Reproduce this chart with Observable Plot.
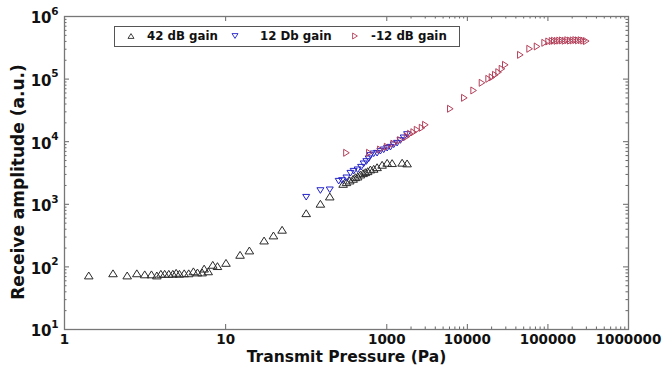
<!DOCTYPE html>
<html><head><meta charset="utf-8">
<script src="https://cdn.jsdelivr.net/npm/d3@7"></script>
<script src="https://cdn.jsdelivr.net/npm/@observablehq/plot@0.6"></script>
<style>body{margin:0;background:#fff;} #chart{width:663px;height:378px;}</style>
</head><body><div id="chart"></div>
<script>
// ---- data ----
const seriesNames = ["42 dB gain", "12 Db gain", "-12 dB gain"];
const seriesColors = ["#2a2a2a", "#2323c8", "#b4405a"];

const pressure42 = [0.2, 0.4, 0.6, 0.79, 0.99, 1.2, 1.4, 1.57, 1.75, 1.97, 2.21, 2.43, 2.67, 3.06, 3.48, 3.98, 4.47, 5.11, 5.41, 6.07, 6.92, 7.91, 10.1, 15.1, 19.7, 30, 39.2, 50.2, 100, 150, 196, 287, 316, 347, 382, 408, 435, 470, 508, 542, 579, 626, 688, 758, 875, 1010, 1165, 1550, 1787];
const amplitude42 = [73, 79, 73, 79, 76, 76, 73, 77.6, 77.6, 77.6, 77.6, 80.5, 77.6, 79, 79, 85, 81.5, 81.5, 94, 85, 108, 103, 116, 156, 183, 264, 318, 392, 721, 1020, 1333, 2120, 2255, 2400, 2553, 2710, 2780, 2990, 3140, 3260, 3380, 3600, 3690, 3915, 4280, 4600, 4550, 4620, 4500];

const pressure12 = [100, 150, 196, 253, 279, 316, 354, 388, 435, 480, 517, 558, 596, 626, 688, 758, 833, 916, 1010, 1109, 1219, 1343, 1476, 1622, 1787];
const amplitude12 = [1297, 1660, 1705, 2340, 2400, 2650, 3140, 3380, 3560, 3915, 4440, 4830, 5340, 6030, 6410, 6550, 7050, 7420, 7870, 8170, 8930, 9470, 10450, 11540, 13030];

const pressureM12 = [316, 608, 833, 1010, 1219, 1476, 1787, 1963, 2158, 2377, 2742, 3013, 6150, 9180, 11970, 15200, 18370, 20230, 22230, 24420, 26900, 29580, 45470, 59300, 73300, 91000, 102000, 112500, 120000, 129600, 139600, 151000, 163000, 175600, 189800, 204800, 220800, 238300, 257400, 277300, 299300];
const amplitudeM12 = [6650, 6650, 7500, 8300, 9300, 10600, 12100, 13370, 14180, 15500, 16690, 18620, 33600, 50200, 65800, 87300, 101000, 107000, 117000, 129000, 146000, 169000, 244000, 305000, 332000, 380000, 399000, 405000, 410000, 408000, 412000, 415000, 410000, 418000, 412000, 415000, 420000, 416000, 418000, 412000, 405000];

const xMajorTicks = [0.1, 10, 1000, 10000, 100000, 1000000];
const xTickLabels = ["1", "10", "1000", "10000", "100000", "1000000"];
const xMinorTicks = [2000, 3000, 4000, 5000, 6000, 7000, 8000, 9000, 20000, 30000, 40000, 50000, 60000, 70000, 80000, 90000, 200000, 300000, 400000, 500000, 600000, 700000, 800000, 900000];
const yMajorTicks = [10, 100, 1000, 10000, 100000, 1000000];
const yTickExponents = ["1", "2", "3", "4", "5", "6"];
const yMinorTicks = [];
for (const d of [10, 100, 1000, 10000, 100000]) for (let m = 2; m <= 9; m++) yMinorTicks.push(d * m);

const xTitle = "Transmit Pressure (Pa)";
const yTitle = "Receive amplitude (a.u.)";

// ---- table ----
const rows = [
  ...pressure42.map((p, i) => ({series: seriesNames[0], p, a: amplitude42[i]})),
  ...pressure12.map((p, i) => ({series: seriesNames[1], p, a: amplitude12[i]})),
  ...pressureM12.map((p, i) => ({series: seriesNames[2], p, a: amplitudeM12[i]}))
];

// ---- marker shapes ----
function triangle(dir, k) {
  return {draw(ctx, size) {
    const r = Math.sqrt(size / Math.PI), h = r * k;
    if (dir === "up") { ctx.moveTo(0, -h); ctx.lineTo(r, h); ctx.lineTo(-r, h); }
    else if (dir === "down") { ctx.moveTo(0, h); ctx.lineTo(r, -h); ctx.lineTo(-r, -h); }
    else { ctx.moveTo(h, 0); ctx.lineTo(-h, -r); ctx.lineTo(-h, r); }
    ctx.closePath();
  }};
}
const symUp = triangle("up", 0.8), symDown = triangle("down", 0.8), symRight = triangle("right", 0.8);

const W = 663, H = 378, mL = 64, mR = 35, mT = 16, mB = 49;
const innerW = W - mL - mR, innerH = H - mT - mB;
const font = "DejaVu Sans";
const tickColor = "#666";

const plot = Plot.plot({
  width: W, height: H,
  marginLeft: mL, marginRight: mR, marginTop: mT, marginBottom: mB,
  x: {type: "log", domain: [0.1, 1e6], axis: null},
  y: {type: "log", domain: [10, 1e6], axis: null},
  style: {fontFamily: font, background: "white", color: "#111"},
  marks: [
    // ticks (inward, all four sides)
    Plot.tickX(xMajorTicks, {x: d => d, insetTop: innerH - 5, stroke: tickColor}),
    Plot.tickX(xMajorTicks, {x: d => d, insetBottom: innerH - 5, stroke: tickColor}),
    Plot.tickX(xMinorTicks, {x: d => d, insetTop: innerH - 2.5, stroke: tickColor}),
    Plot.tickX(xMinorTicks, {x: d => d, insetBottom: innerH - 2.5, stroke: tickColor}),
    Plot.tickY(yMajorTicks, {y: d => d, insetRight: innerW - 5, stroke: tickColor}),
    Plot.tickY(yMajorTicks, {y: d => d, insetLeft: innerW - 5, stroke: tickColor}),
    Plot.tickY(yMinorTicks, {y: d => d, insetRight: innerW - 2.5, stroke: tickColor}),
    Plot.tickY(yMinorTicks, {y: d => d, insetLeft: innerW - 2.5, stroke: tickColor}),
    Plot.frame({stroke: "#777", strokeWidth: 1.3}),
    // tick labels
    Plot.text(xMajorTicks, {x: d => d, frameAnchor: "bottom", dy: 14.5, text: (d, i) => xTickLabels[i], fontSize: 13.5, fontWeight: "bold", fill: "#111"}),
    Plot.text(yMajorTicks, {y: d => d, frameAnchor: "left", dx: -13, dy: 2, textAnchor: "end", text: () => "10", fontSize: 15, fontWeight: "bold", fill: "#111"}),
    Plot.text(yMajorTicks, {y: d => d, frameAnchor: "left", dx: -6, dy: -5, textAnchor: "end", text: (d, i) => yTickExponents[i], fontSize: 10.5, fontWeight: "bold", fill: "#111"}),
    // axis titles
    Plot.text([xTitle], {frameAnchor: "bottom", dy: 32, text: d => d, fontSize: 15.5, fontWeight: "bold", fill: "#111"}),
    Plot.text([yTitle], {frameAnchor: "left", dx: -46, dy: 9, textAnchor: "middle", rotate: -90, text: d => d, fontSize: 17, fontWeight: "bold", fill: "#111"}),
    // data
    Plot.dot(rows.filter(d => d.series === seriesNames[0]), {x: "p", y: "a", symbol: symUp, r: 4.3, stroke: seriesColors[0], strokeWidth: 1, fill: "none"}),
    Plot.dot(rows.filter(d => d.series === seriesNames[1]), {x: "p", y: "a", symbol: symDown, r: 3.5, stroke: seriesColors[1], strokeWidth: 1, fill: "none"}),
    Plot.dot(rows.filter(d => d.series === seriesNames[2]), {x: "p", y: "a", symbol: symRight, r: 3.5, stroke: seriesColors[2], strokeWidth: 1, fill: "none"})
  ]
});

document.getElementById("chart").appendChild(plot);

// ---- legend (inside the frame, top-left) ----
const svg = d3.select(plot);
const lg = svg.append("g").attr("font-family", font).attr("font-weight", "bold").attr("font-size", 11.8).attr("text-anchor", "start");
lg.append("rect").attr("x", 114.5).attr("y", 26.5).attr("width", 345).attr("height", 20).attr("fill", "white").attr("stroke", "#555").attr("stroke-width", 1);
const legendItems = [
  {sym: symUp, mx: 131, tx: 147},
  {sym: symDown, mx: 235, tx: 260},
  {sym: symRight, mx: 355, tx: 371}
];
legendItems.forEach((it, i) => {
  lg.append("path").attr("transform", `translate(${it.mx},36)`)
    .attr("d", d3.symbol(it.sym, 9 * Math.PI)())
    .attr("fill", "none").attr("stroke", seriesColors[i]).attr("stroke-width", 0.9);
  lg.append("text").attr("x", it.tx).attr("y", 36).attr("dy", "0.35em").attr("fill", "#111").attr("text-anchor", "start").text(seriesNames[i]);
});
</script>
</body></html>
